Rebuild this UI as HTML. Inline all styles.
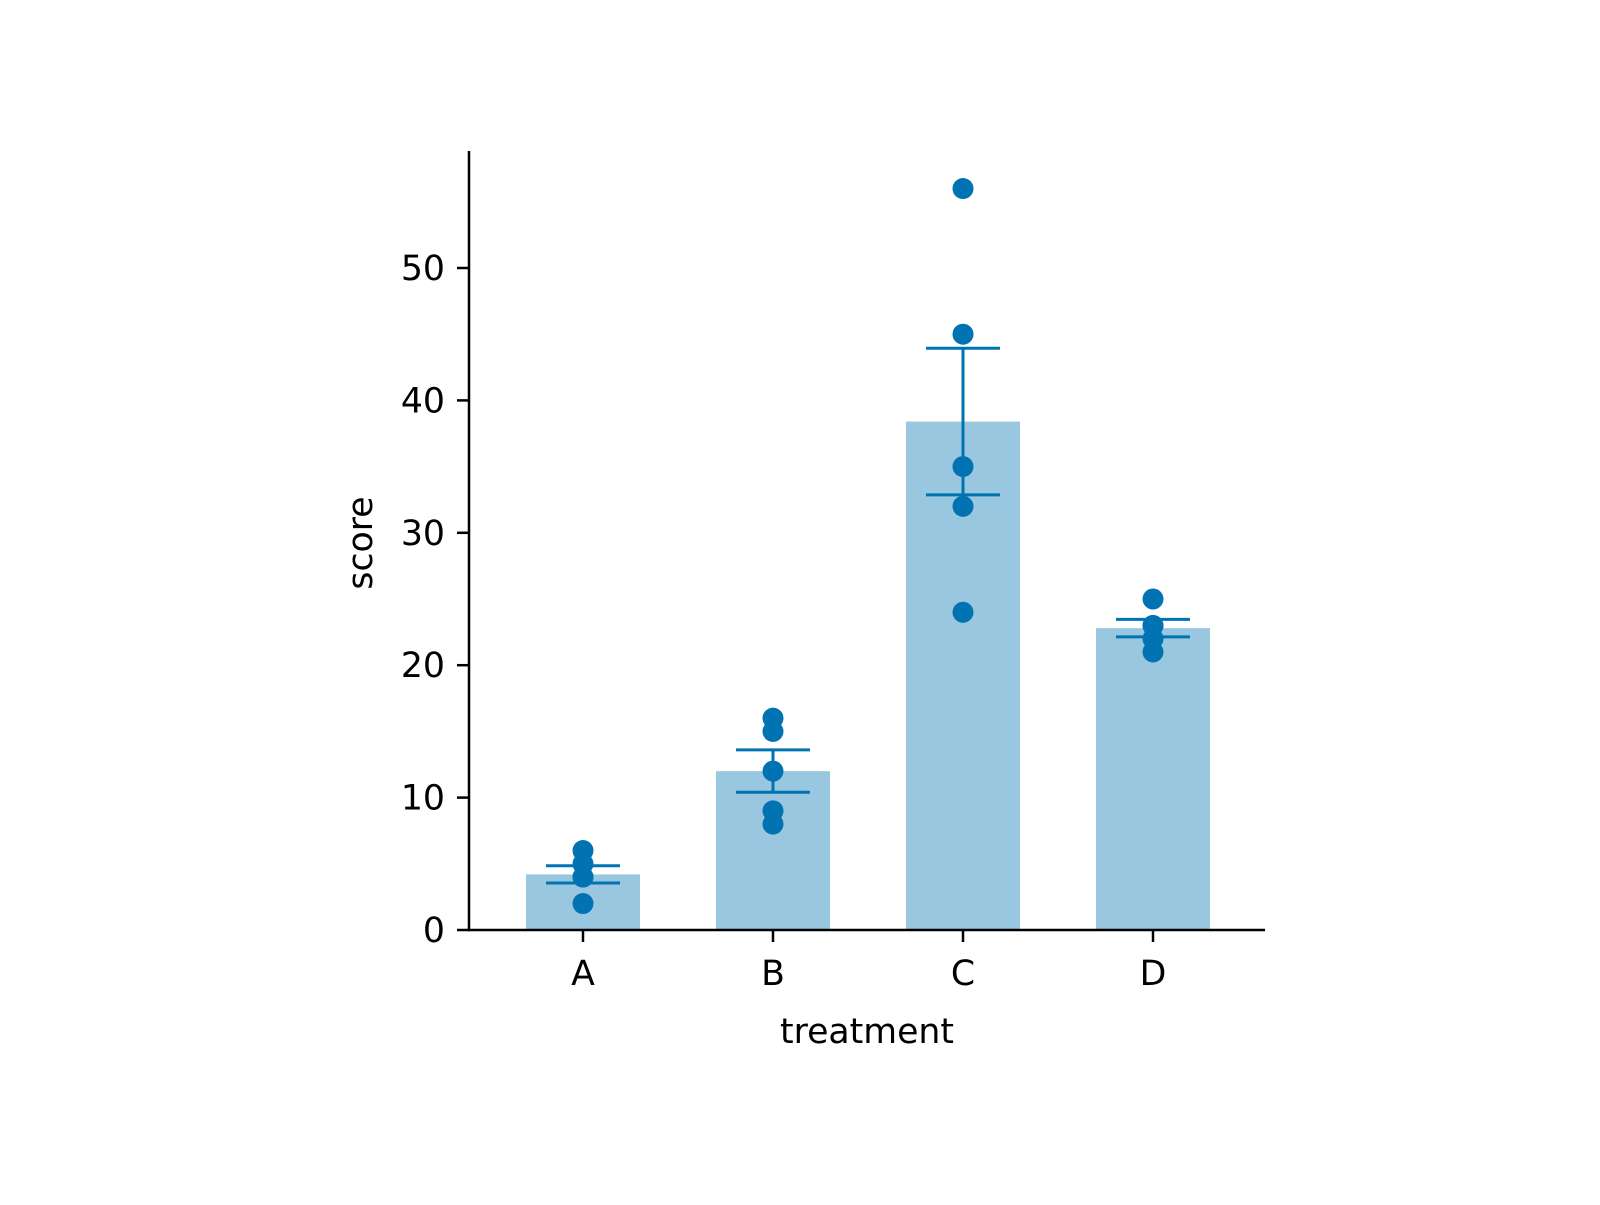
<!DOCTYPE html>
<html><head><meta charset="utf-8"><style>
html,body{margin:0;padding:0;background:#fff;}
svg text{font-family:"DejaVu Sans","Liberation Sans",sans-serif;fill:#000;}
</style></head><body>
<svg id="chart" width="1600" height="1200" viewBox="0 0 1600 1200" xmlns="http://www.w3.org/2000/svg"></svg>
<script>
const categories = ["A","B","C","D"];
const means = [4.2, 12, 38.4, 22.8];
const errLow = [3.55, 10.4, 32.86, 22.14];
const errHigh = [4.85, 13.6, 43.94, 23.46];
const points = [[2,4,4,5,6],[8,9,12,15,16],[24,32,35,45,56],[21,22,23,23,25]];
const yTicks = [0,10,20,30,40,50];

const NS = "http://www.w3.org/2000/svg";
const svg = document.getElementById("chart");
const x0 = 469, x1 = 1265, yBase = 930, yTop = 151;
const pxPer = 13.24;
const y = v => yBase - v * pxPer;
const step = 190, firstX = 583;
const xc = i => firstX + i * step;
const barW = 114;

function mk(tag, attrs, parent) {
  const el = document.createElementNS(NS, tag);
  for (const k in attrs) el.setAttribute(k, attrs[k]);
  (parent || svg).appendChild(el);
  return el;
}

const gBars = mk("g", {});


categories.forEach((c, i) => {
  const r = mk("rect", {x: xc(i) - barW/2, y: y(means[i]), width: barW, height: yBase - y(means[i]), fill: "#9ac7e0"}, gBars);
  
  
});

categories.forEach((c, i) => {
  const g = mk("g", {stroke: "#0173b2", "stroke-width": 3}, svg);
  
  
  mk("line", {x1: xc(i), x2: xc(i), y1: y(errLow[i]), y2: y(errHigh[i])}, g);
  mk("line", {x1: xc(i) - 37, x2: xc(i) + 37, y1: y(errLow[i]), y2: y(errLow[i])}, g);
  mk("line", {x1: xc(i) - 37, x2: xc(i) + 37, y1: y(errHigh[i]), y2: y(errHigh[i])}, g);
});

categories.forEach((c, i) => {
  points[i].forEach((v, j) => {
    const p = mk("circle", {cx: xc(i), cy: y(v), r: 10.5, fill: "#0173b2"});
    
    
  });
});

const axes = mk("g", {stroke: "#000", "stroke-width": 2.5, fill: "none"});


mk("line", {x1: x0, x2: x0, y1: yTop, y2: yBase + 1.2}, axes);
mk("line", {x1: x0 - 1.2, x2: x1, y1: yBase, y2: yBase}, axes);

yTicks.forEach(t => {
  mk("line", {x1: x0 - 12, x2: x0, y1: y(t), y2: y(t), stroke: "#000", "stroke-width": 2.5});
  const tx = mk("text", {x: x0 - 24, y: y(t) + 12, "text-anchor": "end", "font-size": 34.7});
  tx.textContent = t;
  
  
});
categories.forEach((c, i) => {
  mk("line", {x1: xc(i), x2: xc(i), y1: yBase, y2: yBase + 12, stroke: "#000", "stroke-width": 2.5});
  const tx = mk("text", {x: xc(i), y: 985, "text-anchor": "middle", "font-size": 34.7});
  tx.textContent = c;
  
  
});
const xt = mk("text", {x: (x0 + x1) / 2, y: 1043, "text-anchor": "middle", "font-size": 34.7});
xt.textContent = "treatment";


const yt = mk("text", {x: 0, y: 0, "text-anchor": "middle", "font-size": 34.7, transform: "translate(372,543) rotate(-90)"});
yt.textContent = "score";


</script>
</body></html>
